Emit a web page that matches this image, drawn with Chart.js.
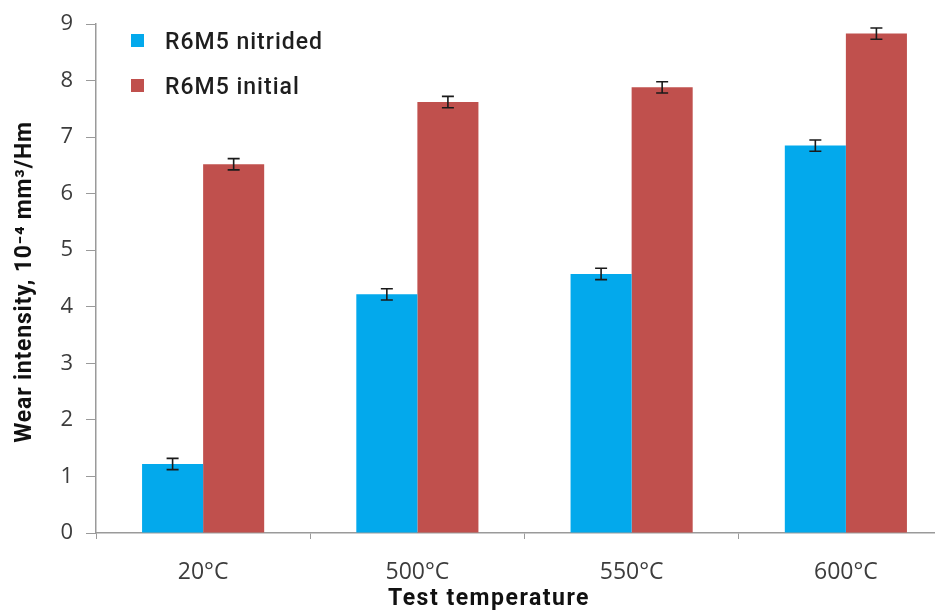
<!DOCTYPE html>
<html>
<head>
<meta charset="utf-8">
<script src="https://cdn.jsdelivr.net/npm/chart.js@4"></script>
<style>
  html, body { margin: 0; padding: 0; background: #fff; overflow: hidden; }
  #wrap { width: 935px; height: 613px; overflow: hidden; }
  #wrap canvas { display: block; }
</style>
</head>
<body>
<div id="wrap"><canvas id="c" width="962" height="613"></canvas></div>
<script>
const categories = ['20°C', '500°C', '550°C', '600°C'];
const nitrided = [1.22, 4.22, 4.58, 6.85];
const nitridedErr = [0.1, 0.1, 0.1, 0.1];
const initial = [6.52, 7.62, 7.88, 8.83];
const initialErr = [0.1, 0.1, 0.1, 0.1];
const yTicks = [0, 1, 2, 3, 4, 5, 6, 7, 8, 9];
const xTitle = 'Test temperature';
const yTitle = 'Wear intensity, 10⁻⁴ mm³/Hm';

const errors = [nitridedErr, initialErr];

// Whisker caps drawn on top of each bar
const errorBars = {
  id: 'errorBars',
  afterDatasetsDraw(chart) {
    const ctx = chart.ctx;
    const y = chart.scales.y;
    ctx.save();
    ctx.strokeStyle = '#1a1a1a';
    ctx.lineWidth = 1.6;
    chart.data.datasets.forEach((ds, di) => {
      const meta = chart.getDatasetMeta(di);
      meta.data.forEach((bar, i) => {
        const v = ds.data[i];
        const e = errors[di][i];
        const yt = y.getPixelForValue(v + e);
        const yb = y.getPixelForValue(v - e);
        const x = bar.x;
        const half = 6;
        ctx.beginPath();
        ctx.moveTo(x, yt); ctx.lineTo(x, yb);
        ctx.moveTo(x - half, yt); ctx.lineTo(x + half, yt);
        ctx.moveTo(x - half, yb); ctx.lineTo(x + half, yb);
        ctx.stroke();
      });
    });
    ctx.restore();
  }
};

// Vertical legend in the upper-left corner and the two axis titles
const annotations = {
  id: 'annotations',
  afterDraw(chart) {
    const ctx = chart.ctx;
    ctx.save();
    ctx.font = '500 23px Roboto';
    ctx.letterSpacing = '1px';
    ctx.textBaseline = 'middle';
    chart.data.datasets.forEach((ds, i) => {
      const cy = 42 + i * 45;
      ctx.fillStyle = ds.backgroundColor;
      ctx.fillRect(131, cy - 8, 13, 13);
      ctx.fillStyle = '#1e1e1e';
      ctx.fillText(ds.label, 165, cy + 1);
    });

    ctx.fillStyle = '#111';
    ctx.font = 'bold 23px Roboto';
    ctx.textAlign = 'center';
    ctx.letterSpacing = '1.5px';
    ctx.fillText(xTitle, 489, 599);

    ctx.letterSpacing = '0.8px';
    ctx.translate(25, 282);
    ctx.rotate(-Math.PI / 2);
    ctx.fillText(yTitle, 0, 0);
    ctx.restore();
  }
};

new Chart(document.getElementById('c'), {
  type: 'bar',
  data: {
    labels: categories,
    datasets: [
      { label: 'R6M5 nitrided', data: nitrided, backgroundColor: '#03A9EC' },
      { label: 'R6M5 initial', data: initial, backgroundColor: '#C0504D' }
    ]
  },
  options: {
    responsive: false,
    animation: false,
    devicePixelRatio: 1,
    layout: { padding: { top: 20, right: 9, bottom: 0, left: 0 } },
    datasets: { bar: { categoryPercentage: 0.57, barPercentage: 1.0 } },
    plugins: { legend: { display: false }, tooltip: { enabled: false } },
    scales: {
      x: {
        grid: { display: true, drawOnChartArea: false, drawTicks: true, tickLength: 6, color: '#9a9a9a', offset: true },
        border: { color: '#9a9a9a', width: 1.5 },
        ticks: { color: '#3c3c3c', font: { family: 'Open Sans', size: 23 }, padding: 20 },
        afterFit(s) { s.height = 80; }
      },
      y: {
        min: 0, max: 9,
        afterBuildTicks(s) { s.ticks = yTicks.map(v => ({ value: v })); },
        grid: { display: true, drawOnChartArea: false, drawTicks: true, tickLength: 10, color: '#9a9a9a' },
        border: { color: '#9a9a9a', width: 1.5 },
        ticks: { color: '#3c3c3c', font: { family: 'Open Sans', size: 22, lineHeight: 1 }, padding: 13 },
        afterFit(s) { s.width = 96; }
      }
    }
  },
  plugins: [errorBars, annotations]
});
</script>
</body>
</html>
